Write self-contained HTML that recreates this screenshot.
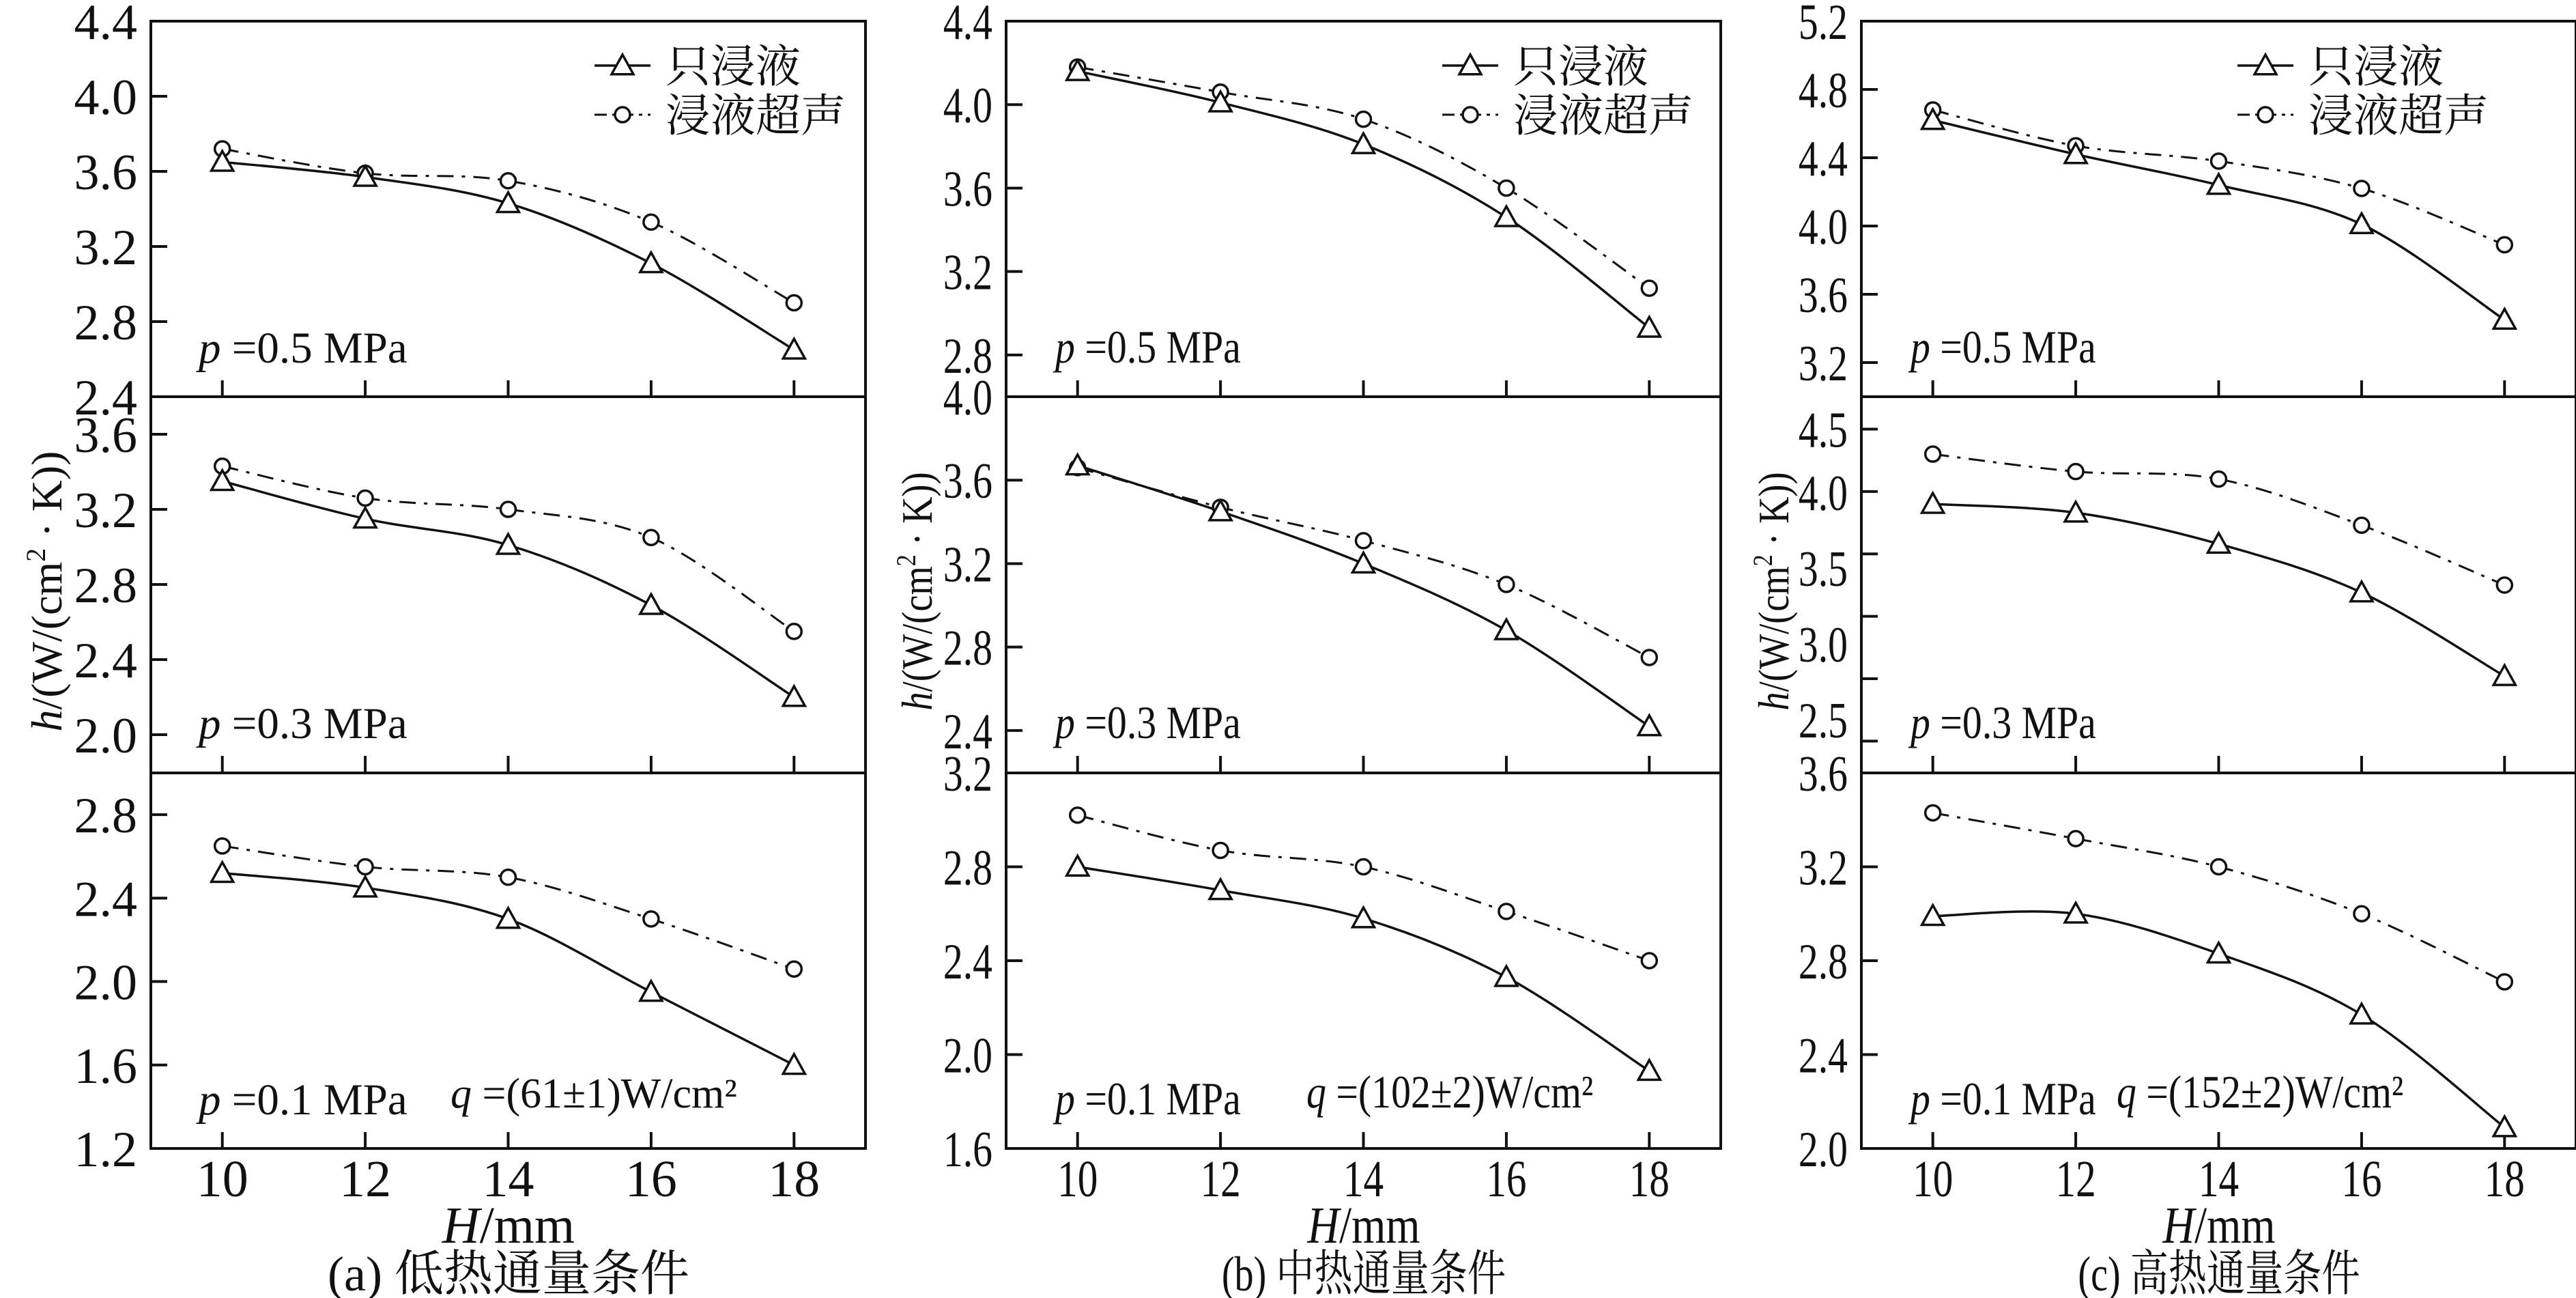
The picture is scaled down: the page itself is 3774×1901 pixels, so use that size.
<!DOCTYPE html>
<html><head><meta charset="utf-8">
<style>
html,body{margin:0;padding:0;background:#fff;}
svg{display:block;}
text{font-family:"Liberation Serif","Noto Serif CJK SC",serif;fill:#111;}
</style></head>
<body>
<svg id="chart" width="3774" height="1901" viewBox="0 0 3774 1901" xmlns="http://www.w3.org/2000/svg"></svg>
<script>
// ---- data ----
const categories = [10, 12, 14, 16, 18];
// panel a (low flux)
const a_p05_only = [3.65, 3.57, 3.43, 3.11, 2.65];
const a_p05_us   = [3.72, 3.59, 3.55, 3.33, 2.90];
const a_p03_only = [3.35, 3.15, 3.01, 2.69, 2.20];
const a_p03_us   = [3.43, 3.26, 3.20, 3.05, 2.55];
const a_p01_only = [2.52, 2.45, 2.30, 1.95, 1.60];
const a_p01_us   = [2.65, 2.55, 2.50, 2.30, 2.06];
// panel b (medium flux)
const b_p05_only = [4.16, 4.01, 3.81, 3.46, 2.93];
const b_p05_us   = [4.18, 4.06, 3.93, 3.60, 3.12];
const b_p03_only = [3.67, 3.45, 3.20, 2.88, 2.42];
const b_p03_us   = [3.66, 3.47, 3.31, 3.10, 2.75];
const b_p01_only = [2.80, 2.70, 2.58, 2.33, 1.93];
const b_p01_us   = [3.02, 2.87, 2.80, 2.61, 2.40];
// panel c (high flux)
const c_p05_only = [4.62, 4.42, 4.24, 4.01, 3.45];
const c_p05_us   = [4.68, 4.47, 4.38, 4.22, 3.89];
const c_p03_only = [3.90, 3.83, 3.58, 3.19, 2.52];
const c_p03_us   = [4.30, 4.16, 4.10, 3.73, 3.25];
const c_p01_only = [2.99, 3.00, 2.83, 2.57, 2.09];
const c_p01_us   = [3.43, 3.32, 3.20, 3.00, 2.71];
// y domains and ticks
const a_p05_dom = [2.4, 4.4]; const a_p05_ticks = [2.4, 2.8, 3.2, 3.6, 4.0, 4.4];
const a_p03_dom = [1.8, 3.8]; const a_p03_ticks = [2.0, 2.4, 2.8, 3.2, 3.6];
const a_p01_dom = [1.2, 3.0]; const a_p01_ticks = [1.2, 1.6, 2.0, 2.4, 2.8];
const b_p05_dom = [2.6, 4.4]; const b_p05_ticks = [2.8, 3.2, 3.6, 4.0, 4.4];
const b_p03_dom = [2.2, 4.0]; const b_p03_ticks = [2.4, 2.8, 3.2, 3.6, 4.0];
const b_p01_dom = [1.6, 3.2]; const b_p01_ticks = [1.6, 2.0, 2.4, 2.8, 3.2];
const c_p05_dom = [3.0, 5.2]; const c_p05_ticks = [3.2, 3.6, 4.0, 4.4, 4.8, 5.2];
const c_p03_dom = [1.75, 4.76]; const c_p03_ticks = [2.0, 2.5, 3.0, 3.5, 4.0, 4.5];
const c_p03_labels = ["2.5", "3.0", "3.5", "4.0", "4.5"];
const c_p01_dom = [2.0, 3.6]; const c_p01_ticks = [2.0, 2.4, 2.8, 3.2, 3.6];
const xTickLabels = ["10", "12", "14", "16", "18"];
const legendLabels = ["只浸液", "浸液超声"];
const captions = ["(a) 低热通量条件", "(b) 中热通量条件", "(c) 高热通量条件"];
const qLabels = ["q =(61±1)W/cm²", "q =(102±2)W/cm²", "q =(152±2)W/cm²"];
const pLabels = ["p =0.5 MPa", "p =0.3 MPa", "p =0.1 MPa"];

// ---- layout ----
const NS = "http://www.w3.org/2000/svg";
const svg = document.getElementById("chart");
const lefts = [221, 1474, 2727], PW = 1047;
const tops = [31, 581, 1132], PH = 550;
const xDom = [9, 19];

function mk(tag, attrs, parent) {
  const e = document.createElementNS(NS, tag);
  for (const k in attrs) e.setAttribute(k, attrs[k]);
  (parent || svg).appendChild(e);
  return e;
}
function txt(x, y, s, size, anchor, sx, parent) {
  const t = mk("text", {x: 0, y: 0, "font-size": size, "text-anchor": anchor || "start",
    transform: `translate(${x},${y}) scale(${sx || 1},1)`}, parent);
  t.textContent = s;
  return t;
}
function smoothPath(pts) {
  let d = `M${pts[0][0]},${pts[0][1]}`;
  for (let i = 0; i < pts.length - 1; i++) {
    const p0 = pts[i - 1] || pts[i], p1 = pts[i], p2 = pts[i + 1], p3 = pts[i + 2] || p2;
    const c1 = [p1[0] + (p2[0] - p0[0]) / 6, p1[1] + (p2[1] - p0[1]) / 6];
    const c2 = [p2[0] - (p3[0] - p1[0]) / 6, p2[1] - (p3[1] - p1[1]) / 6];
    d += ` C${c1[0]},${c1[1]} ${c2[0]},${c2[1]} ${p2[0]},${p2[1]}`;
  }
  return d;
}
function tri(g, x, y) {
  const s = 16;
  const p = mk("polygon", {points: `${x},${y - s} ${x - s},${y + s * 0.8} ${x + s},${y + s * 0.8}`,
    fill: "#fff", stroke: "#111", "stroke-width": 3.5}, g);
  
  
}
function circ(g, x, y) {
  const c = mk("circle", {cx: x, cy: y, r: 11, fill: "#fff", stroke: "#111", "stroke-width": 3.5}, g);
  
  
}

const panels = [
  [[a_p05_only, a_p05_us, a_p05_dom, a_p05_ticks], [a_p03_only, a_p03_us, a_p03_dom, a_p03_ticks], [a_p01_only, a_p01_us, a_p01_dom, a_p01_ticks]],
  [[b_p05_only, b_p05_us, b_p05_dom, b_p05_ticks], [b_p03_only, b_p03_us, b_p03_dom, b_p03_ticks], [b_p01_only, b_p01_us, b_p01_dom, b_p01_ticks]],
  [[c_p05_only, c_p05_us, c_p05_dom, c_p05_ticks], [c_p03_only, c_p03_us, c_p03_dom, c_p03_ticks], [c_p01_only, c_p01_us, c_p01_dom, c_p01_ticks]]
];
const condense = [1, 0.78, 0.78];
const condenseAnn = [1, 0.85, 0.85];

panels.forEach((col, ci) => {
  const L = lefts[ci], sx = condense[ci], sa = condenseAnn[ci];
  const xs = v => L + (v - xDom[0]) / (xDom[1] - xDom[0]) * PW;
  const pg = mk("g", {});
  
  
  col.forEach((row, ri) => {
    const [only, us, dom, ticks] = row;
    const T = tops[ri];
    const ys = v => T + PH - (v - dom[0]) / (dom[1] - dom[0]) * PH;
    const g = mk("g", {}, pg);
    
    
    ticks.forEach((tv, ti) => {
      const y = ys(tv);
      const tk = mk("line", {x1: L, x2: L + 24, y1: y, y2: y, stroke: "#111", "stroke-width": 4}, g);
      
      
      let lab = tv.toFixed(1), ly = y;
      if (ci === 2 && ri === 1) {
        if (ti === 0) return;
        lab = c_p03_labels[ti - 1];
        ly = 721 + (4.0 - parseFloat(lab)) / 0.5 * 111;
        if (lab === "4.5") ly = y;
      }
      const t = txt(L - 20, ly + 26, lab, 74, "end", sx, g);
      
      
    });
    categories.forEach(c => {
      const x = xs(c);
      const tk = mk("line", {x1: x, x2: x, y1: T + PH, y2: T + PH - 24, stroke: "#111", "stroke-width": 4}, g);
      
      
    });
    const ptsO = categories.map((c, i) => [xs(c), ys(only[i])]);
    const ptsU = categories.map((c, i) => [xs(c), ys(us[i])]);
    const lu = mk("path", {d: smoothPath(ptsU), fill: "none", stroke: "#111", "stroke-width": 3, "stroke-dasharray": "24 12 5 12"}, g);
    
    
    const lo = mk("path", {d: smoothPath(ptsO), fill: "none", stroke: "#111", "stroke-width": 3.5}, g);
    
    
    ptsU.forEach(p => circ(g, p[0], p[1]));
    ptsO.forEach(p => tri(g, p[0], p[1]));
    const px = ci === 0 ? L + 70 : L + 72;
    const pt = txt(px, T + 500, "", ci === 0 ? 65 : 68, "start", sa, g);
    
    
    const ts1 = mk("tspan", {"font-style": "italic"}, pt); ts1.textContent = "p";
    const ts2 = mk("tspan", {}, pt); ts2.textContent = pLabels[ri].slice(1);
    if (ri === 2) {
      const qx = [660, 1914, 3101][ci];
      const qt = txt(qx, T + 490, "", ci === 0 ? 62 : 68, "start", sa, g);
      
      
      const q1 = mk("tspan", {"font-style": "italic"}, qt); q1.textContent = "q";
      const q2 = mk("tspan", {}, qt); q2.textContent = qLabels[ci].slice(1);
    }
  });
  const fr = mk("rect", {x: L, y: tops[0], width: PW, height: PH * 3 + 1, fill: "none", stroke: "#111", "stroke-width": 4}, pg);
  
  
  [tops[1], tops[2]].forEach(y => {
    const dl = mk("line", {x1: L, x2: L + PW, y1: y, y2: y, stroke: "#111", "stroke-width": 4}, pg);
    
    
  });
  categories.forEach((c, i) => {
    const t = txt(xs(c), 1752, xTickLabels[i], 76, "middle", sx, pg);
    
    
  });
  const xt = txt(L + 524, 1820, "", 76, "middle", sa, pg);
  
  
  const h1 = mk("tspan", {"font-style": "italic"}, xt); h1.textContent = "H";
  const h2 = mk("tspan", {}, xt); h2.textContent = "/mm";
  const cp = txt(L + 524, 1890, captions[ci], 72, "middle", sx, pg);
  
  
  const yx = [70, 1345, 2600][ci];
  const yt = mk("text", {x: 0, y: 0, "font-size": 64, "text-anchor": "middle",
    transform: `translate(${yx + 20},866) rotate(-90) scale(${sa},1)`}, pg);
  
  
  const y1 = mk("tspan", {"font-style": "italic"}, yt); y1.textContent = "h";
  const y2 = mk("tspan", {}, yt); y2.textContent = "/(W/(cm";
  const y3 = mk("tspan", {"font-size": 40, dy: -24}, yt); y3.textContent = "2";
  const y4 = mk("tspan", {dy: 24}, yt); y4.textContent = " · K))";
  const lx = [871, 2113, 3278][ci];
  const lg = mk("g", {}, pg);
  
  
  const l1 = mk("line", {x1: lx, x2: lx + 82, y1: 96, y2: 96, stroke: "#111", "stroke-width": 3.5}, lg);
  
  
  tri(lg, lx + 41, 96);
  const e1 = txt(lx + 104, 120, legendLabels[0], 66, "start", 1, lg);
  
  
  const l2 = mk("line", {x1: lx, x2: lx + 82, y1: 168, y2: 168, stroke: "#111", "stroke-width": 3, "stroke-dasharray": "18 8 5 8"}, lg);
  
  
  circ(lg, lx + 41, 168);
  const e2 = txt(lx + 104, 192, legendLabels[1], 66, "start", 1, lg);
  
  
});
</script>
</body></html>
